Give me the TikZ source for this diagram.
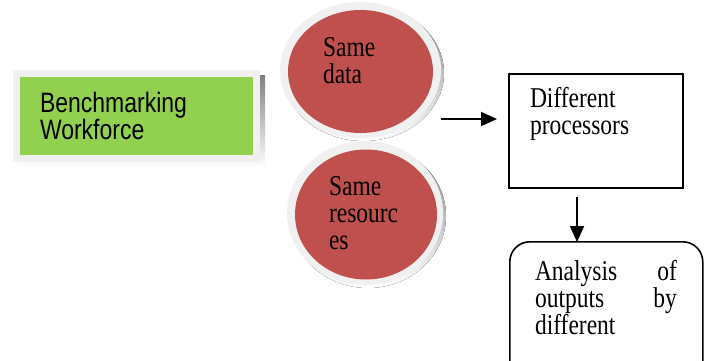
\documentclass[tikz,border=0pt]{standalone}
\usepackage{fontspec}
\usepackage{graphicx}
\usetikzlibrary{arrows.meta,shapes.geometric}
\newfontfamily\tnr{Liberation Serif}
\newfontfamily\ari{Liberation Sans}
\definecolor{leaf}{HTML}{92D050}
\definecolor{brick}{HTML}{C0504D}
\definecolor{ring}{HTML}{F0F0F0}
\definecolor{shade}{HTML}{BC9C9C}
% vertically stretched text block, first baseline at the anchor
\newcommand\tallblock[2]{\scalebox{1}[1.22]{\parbox[t]{#1}{\raggedright #2}}}
\tikzset{
  txt/.style={anchor=base west, inner sep=0pt, outer sep=0pt},
  serif/.style={font=\tnr\fontsize{23.5}{22.3}\selectfont},
  sans/.style={font=\ari\fontsize{23}{20.8}\selectfont},
  framebox/.style={draw=black, line width=1.6pt, fill=white, inner sep=0pt},
  blob/.style={ellipse, inner sep=0pt, draw=none},
  arr/.style={line width=1.9pt, -{Triangle[length=16pt,width=14pt]}},
}
\begin{document}
\begin{tikzpicture}[x=1pt,y=-1pt]
\useasboundingbox (0,0) rectangle (705,360);

% benchmarking panel: shadow, light frame, green face
\fill[shade] (17,75) rectangle (265,167);
\fill[ring] (13,70) rectangle (260,162);
\node[fill=leaf, inner sep=0pt, minimum width=233pt, minimum height=78pt, anchor=north west]
  (bench) at (19.5,77) {};
\node[txt, sans] (benchtxt) at (40,112) {\tallblock{200pt}{Benchmarking\\Workforce}};

% "same data" disc
\fill[shade] (363.5,73) ellipse [x radius=80.5, y radius=68];
\fill[ring] (360.5,70) ellipse [x radius=80.5, y radius=68];
\node[blob, fill=brick, minimum width=145pt, minimum height=123pt] (data) at (360.5,71.5) {};
\node[txt, serif] (datatxt) at (323,56) {\tallblock{100pt}{Same\\data}};

% "same resources" disc
\fill[shade] (368,216) ellipse [x radius=78, y radius=72];
\fill[ring] (365,213) ellipse [x radius=78, y radius=72];
\node[blob, fill=brick, minimum width=142pt, minimum height=130pt] (res) at (366,214.5) {};
\node[txt, serif] (restxt) at (329,195) {\tallblock{100pt}{Same\\resourc\\es}};

% processors box
\node[framebox, minimum width=174pt, minimum height=114pt, anchor=north west]
  (proc) at (508,73) {};
\node[txt, serif] (proctxt) at (530,107) {\tallblock{140pt}{Different\\processors}};

% analysis box (runs off the lower edge)
\node[framebox, rounded corners=20pt, minimum width=193pt, minimum height=140pt, anchor=north west]
  (ana) at (509,241) {};
\node[txt, serif] (anatxt) at (535,280)
  {\tallblock{142pt}{\makebox[142pt][s]{Analysis of}\\\makebox[142pt][s]{outputs by}\\different}};

% connectors
\coordinate (hstart) at (441,119);
\coordinate (vstart) at (577,197);
\draw[arr] (hstart) -- ([xshift=-11pt]proc.west |- hstart);
\draw[arr] (vstart) -- ([yshift=-1pt]vstart |- ana.north);
\end{tikzpicture}
\end{document}
